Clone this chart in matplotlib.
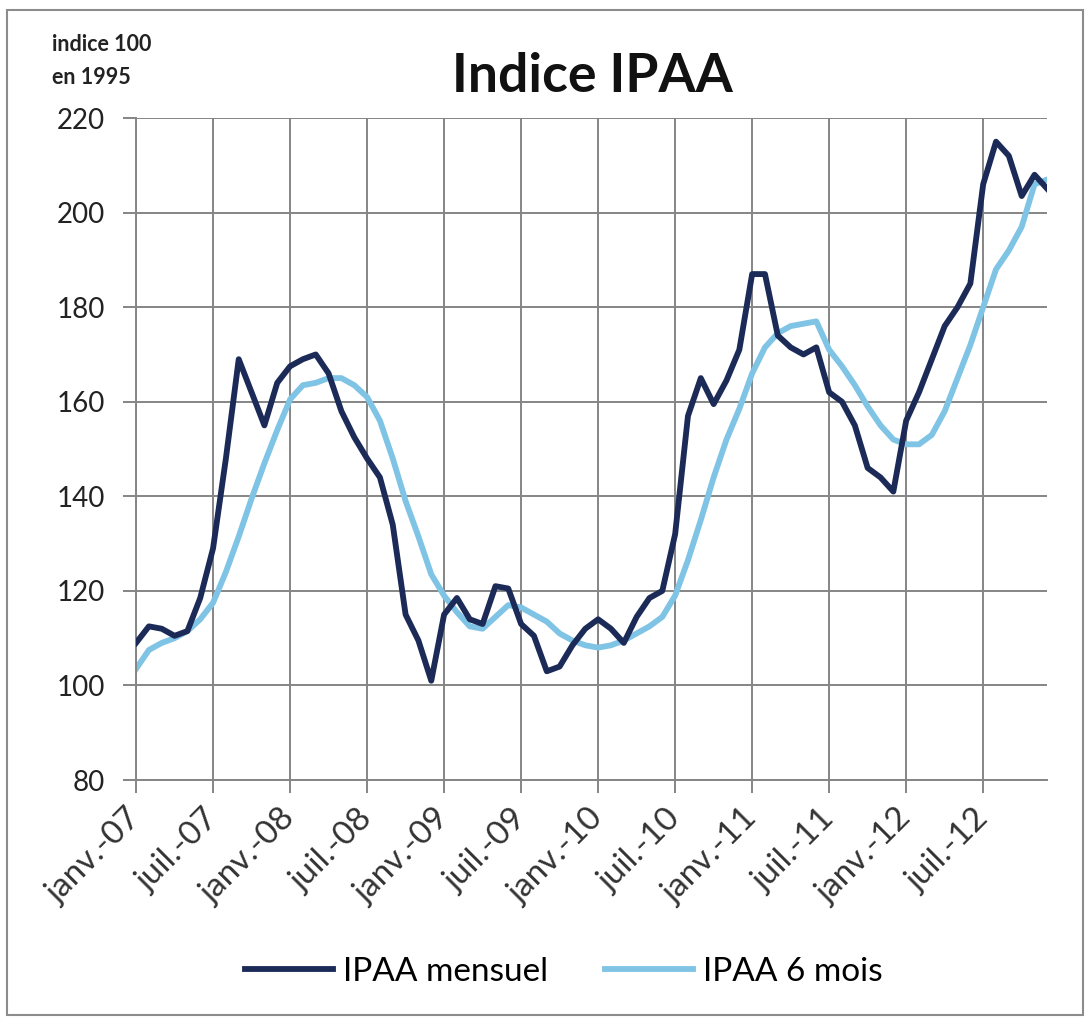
import numpy as np
import matplotlib
matplotlib.use("Agg")
import matplotlib.pyplot as plt
from matplotlib.patches import Rectangle

# Monthly values, janv.-07 .. déc.-12
mensuel = [109, 112.5, 112, 110.5, 111.5, 118.5, 129, 148, 169, 162, 155, 164,
           167.5, 169, 170, 166, 158, 152.5, 148, 144, 134, 115, 109.5, 101,
           115, 118.5, 114, 113, 121, 120.5, 113, 110.5, 103, 104, 108.5, 112,
           114, 112, 109, 114.5, 118.5, 120, 132, 157, 165, 159.5, 164.5, 171,
           187, 187, 174, 171.5, 170, 171.5, 162, 160, 155, 146, 144, 141,
           156, 162, 169, 176, 180, 185, 206, 215, 212, 203.5, 208, 205]
six_mois = [103.5, 107.5, 109, 110, 111.5, 114, 117.5, 124, 131.5, 139.5, 147, 154,
            160.5, 163.5, 164, 165, 165, 163.5, 161, 156, 148, 139, 131.5, 123.5,
            119, 115.5, 112.5, 112, 114.5, 117, 116.5, 115, 113.5, 111, 109.5, 108.5,
            108, 108.5, 109.5, 111, 112.5, 114.5, 119, 126.5, 135, 144, 152, 158.5,
            166, 171.5, 174.5, 176, 176.5, 177, 171, 167.5, 163.5, 159, 155, 152,
            151, 151, 153, 158, 165, 172, 180, 188, 192, 197, 206, 207]
tick_labels = ['janv.-07', 'juil.-07', 'janv.-08', 'juil.-08', 'janv.-09', 'juil.-09',
               'janv.-10', 'juil.-10', 'janv.-11', 'juil.-11', 'janv.-12', 'juil.-12']

months = np.arange(len(mensuel))

plt.rcParams['font.family'] = ['Lato', 'DejaVu Sans']

fig = plt.figure(figsize=(10.91, 10.21), dpi=100)
ax = fig.add_axes([0.1247, 0.236, 0.8353, 0.6484])

grid_col = '#858585'
ax.plot(months, mensuel, color='#1b2a57', lw=4.2, label='IPAA mensuel',
        solid_joinstyle='round', zorder=3)
ax.plot(months, six_mois, color='#7fc3e5', lw=4.2, label='IPAA 6 mois',
        solid_joinstyle='round', zorder=2)

ax.set_xlim(0, len(mensuel) - 1)
ax.set_ylim(80, 220)
ax.set_yticks(np.arange(80, 221, 20))
ax.set_xticks(months[::6])
ax.set_xticklabels(tick_labels, rotation=45, ha='right', va='center',
                   rotation_mode='anchor')

ax.grid(True, color=grid_col, lw=1.4)
ax.set_axisbelow(True)
for s in ['top', 'right']:
    ax.spines[s].set_visible(False)
for s in ['left', 'bottom']:
    ax.spines[s].set_color(grid_col)
    ax.spines[s].set_linewidth(1.4)
ax.tick_params(axis='y', direction='out', length=9.5, width=1.4, color=grid_col,
               labelsize=20, labelcolor='#222222', pad=13)
ax.tick_params(axis='x', direction='out', length=9.5, width=1.4, color=grid_col,
               labelsize=24, labelcolor='#333333', pad=15)

fig.text(0.543, 0.925, 'Indice IPAA', ha='center', va='center',
         fontsize=38.5, fontweight='bold', color='#111111')
fig.text(0.048, 0.956, 'indice 100', ha='left', va='center', fontsize=15.5,
         fontweight='bold', color='#222222')
fig.text(0.048, 0.924, 'en 1995', ha='left', va='center', fontsize=15.5,
         fontweight='bold', color='#222222')

fig.legend(loc='center', bbox_to_anchor=(0.517, 0.048), ncol=2, frameon=False,
           fontsize=24, handlelength=2.65, handletextpad=0.3, columnspacing=1.7)

# outer chart frame
fig.patches.append(Rectangle((0.0065, 0.006), 0.986, 0.984, transform=fig.transFigure,
                             fill=False, edgecolor='#8c8c8c', lw=1.5))

fig.savefig('out.png', dpi=100, facecolor='white')
